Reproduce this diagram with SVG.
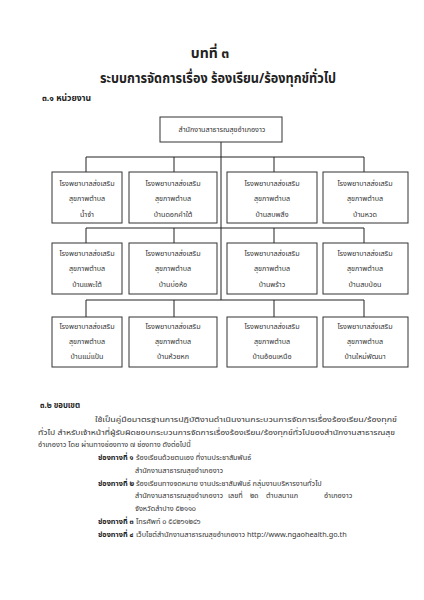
<svg xmlns="http://www.w3.org/2000/svg" width="424" height="600" viewBox="0 0 424 600">
<style>
text{font-family:"Noto Sans Thai","Noto Sans","DejaVu Sans",sans-serif;fill:#222}
.t{font-size:14px;font-weight:bold;text-anchor:middle}
.h{font-size:8px;font-weight:bold}
.b{font-size:7.2px;text-anchor:middle;fill:#333}
.p{font-size:7.3px;fill:#333}
.j{font-size:7.7px;fill:#333}
.k{font-size:7.3px;font-weight:bold;fill:#222}
rect{fill:#fff;stroke:#333;stroke-width:1}
.c line{stroke:#222;stroke-width:1}
</style>
<rect x="0" y="0" width="424" height="600" style="fill:#fff;stroke:none"/>
<text class="t" x="210" y="58">บทที่ ๓</text>
<text class="t" x="218" y="83" textLength="236" lengthAdjust="spacingAndGlyphs">ระบบการจัดการเรื่อง ร้องเรียน/ร้องทุกข์ทั่วไป</text>
<text class="h" x="42" y="101" textLength="49" lengthAdjust="spacingAndGlyphs">๓.๑ หน่วยงาน</text>
<g class="c" id="connectors">
<line x1="221" y1="142" x2="221" y2="300"/>
<line x1="86" y1="157" x2="364" y2="157"/>
<line x1="86" y1="157" x2="86" y2="172"/><line x1="174" y1="157" x2="174" y2="172"/><line x1="274" y1="157" x2="274" y2="172"/><line x1="364" y1="157" x2="364" y2="172"/>
<line x1="86" y1="228" x2="364" y2="228"/>
<line x1="86" y1="228" x2="86" y2="243"/><line x1="174" y1="228" x2="174" y2="243"/><line x1="274" y1="228" x2="274" y2="243"/><line x1="364" y1="228" x2="364" y2="243"/>
<line x1="86" y1="300" x2="364" y2="300"/>
<line x1="86" y1="300" x2="86" y2="317"/><line x1="174" y1="300" x2="174" y2="317"/><line x1="274" y1="300" x2="274" y2="317"/><line x1="364" y1="300" x2="364" y2="317"/>
</g>
<g id="top"><rect x="160" y="117" width="122" height="25"/><text class="b" x="222" y="132">สำนักงานสาธารณสุขอำเภองาว</text></g>
<g id="r1c1"><rect x="52" y="172" width="70" height="51"/><text class="b" x="87" y="186">โรงพยาบาลส่งเสริม</text><text class="b" x="87" y="201">สุขภาพตำบล</text><text class="b" x="87" y="217">น้ำจำ</text></g>
<g id="r1c2"><rect x="129" y="172" width="88" height="51"/><text class="b" x="173" y="186">โรงพยาบาลส่งเสริม</text><text class="b" x="173" y="201">สุขภาพตำบล</text><text class="b" x="173" y="217">บ้านดอกคำใต้</text></g>
<g id="r1c3"><rect x="227" y="172" width="90" height="51"/><text class="b" x="272" y="186">โรงพยาบาลส่งเสริม</text><text class="b" x="272" y="201">สุขภาพตำบล</text><text class="b" x="272" y="217">บ้านสบพลึง</text></g>
<g id="r1c4"><rect x="323" y="172" width="85" height="51"/><text class="b" x="365" y="186">โรงพยาบาลส่งเสริม</text><text class="b" x="365" y="201">สุขภาพตำบล</text><text class="b" x="365" y="217">บ้านหวด</text></g>
<g id="r2c1"><rect x="52" y="243" width="70" height="51"/><text class="b" x="87" y="256">โรงพยาบาลส่งเสริม</text><text class="b" x="87" y="271">สุขภาพตำบล</text><text class="b" x="87" y="287">บ้านแพะใต้</text></g>
<g id="r2c2"><rect x="129" y="243" width="88" height="51"/><text class="b" x="173" y="256">โรงพยาบาลส่งเสริม</text><text class="b" x="173" y="271">สุขภาพตำบล</text><text class="b" x="173" y="287">บ้านบ่อห้อ</text></g>
<g id="r2c3"><rect x="227" y="243" width="90" height="51"/><text class="b" x="272" y="256">โรงพยาบาลส่งเสริม</text><text class="b" x="272" y="271">สุขภาพตำบล</text><text class="b" x="272" y="287">บ้านพร้าว</text></g>
<g id="r2c4"><rect x="323" y="243" width="85" height="51"/><text class="b" x="365" y="256">โรงพยาบาลส่งเสริม</text><text class="b" x="365" y="271">สุขภาพตำบล</text><text class="b" x="365" y="287">บ้านสบป่อน</text></g>
<g id="r3c1"><rect x="52" y="317" width="70" height="50"/><text class="b" x="87" y="329">โรงพยาบาลส่งเสริม</text><text class="b" x="87" y="344">สุขภาพตำบล</text><text class="b" x="87" y="359">บ้านแม่แป้น</text></g>
<g id="r3c2"><rect x="129" y="317" width="88" height="50"/><text class="b" x="173" y="329">โรงพยาบาลส่งเสริม</text><text class="b" x="173" y="344">สุขภาพตำบล</text><text class="b" x="173" y="359">บ้านห้วยหก</text></g>
<g id="r3c3"><rect x="227" y="317" width="90" height="50"/><text class="b" x="272" y="329">โรงพยาบาลส่งเสริม</text><text class="b" x="272" y="344">สุขภาพตำบล</text><text class="b" x="272" y="359">บ้านอ้อนเหนือ</text></g>
<g id="r3c4"><rect x="323" y="317" width="85" height="50"/><text class="b" x="365" y="329">โรงพยาบาลส่งเสริม</text><text class="b" x="365" y="344">สุขภาพตำบล</text><text class="b" x="365" y="359">บ้านใหม่พัฒนา</text></g>
<text class="h" x="40" y="408" textLength="40" lengthAdjust="spacingAndGlyphs">๓.๒ ขอบเขต</text>
<g id="body">
<text class="j" x="95" y="422" textLength="302" lengthAdjust="spacingAndGlyphs">ใช้เป็นคู่มือมาตรฐานการปฏิบัติงานดำเนินงานกระบวนการจัดการเรื่องร้องเรียน/ร้องทุกข์</text>
<text class="j" x="38" y="435" textLength="357" lengthAdjust="spacingAndGlyphs">ทั่วไป สำหรับเจ้าหน้าที่ผู้รับผิดชอบกระบวนการจัดการเรื่องร้องเรียน/ร้องทุกข์ทั่วไปของสำนักงานสาธารณสุข</text>
<text class="p" x="38" y="447">อำเภองาว  โดย ผ่านทางช่องทาง ๗ ช่องทาง ดังต่อไปนี้</text>
<text class="k" x="98" y="460">ช่องทางที่ ๑</text><text class="p" x="136" y="460">ร้องเรียนด้วยตนเอง ที่งานประชาสัมพันธ์</text>
<text class="p" x="135" y="473">สำนักงานสาธารณสุขอำเภองาว</text>
<text class="k" x="98" y="486">ช่องทางที่ ๒</text><text class="p" x="136" y="486">ร้องเรียนทางจดหมาย งานประชาสัมพันธ์ กลุ่มงานบริหารงานทั่วไป</text>
<text class="p" y="498"><tspan x="135">สำนักงานสาธารณสุขอำเภองาว</tspan><tspan x="226"> เลขที่</tspan><tspan x="248"> ๒๓</tspan><tspan x="264"> ตำบลนาแก</tspan><tspan x="322"> อำเภองาว</tspan></text>
<text class="p" x="135" y="511">จังหวัดลำปาง ๕๒๑๑๐</text>
<text class="k" x="98" y="524">ช่องทางที่ ๓</text><text class="p" x="136" y="524">โทรศัพท์ ๐ ๕๔๒๖๑๒๔๖</text>
<text class="k" x="98" y="537">ช่องทางที่ ๔</text><text class="p" x="136" y="537">เว็บไซต์สำนักงานสาธารณสุขอำเภองาว  http://www.ngaohealth.go.th</text>
</g>
</svg>
